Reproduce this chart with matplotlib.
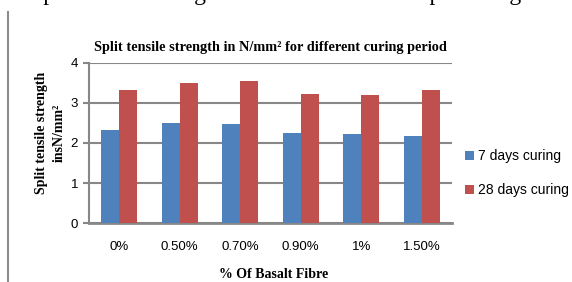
import numpy as np
import matplotlib.pyplot as plt
from matplotlib.lines import Line2D

categories = ["0%", "0.50%", "0.70%", "0.90%", "1%", "1.50%"]
days7 = [2.33, 2.50, 2.48, 2.25, 2.23, 2.18]
days28 = [3.33, 3.50, 3.55, 3.23, 3.20, 3.33]
series_names = ["7 days curing", "28 days curing"]

blue = "#4F81BD"
red = "#C0504D"
grid_grey = "#878787"

fig = plt.figure(figsize=(5.72, 2.82), dpi=100)
ax = fig.add_axes([89 / 572, 1 - 223 / 282, (452 - 89) / 572, (223 - 63) / 282])

x = np.arange(len(categories))
w = 0.3
ax.bar(x - w / 2, days7, w, color=blue, label=series_names[0], zorder=3)
ax.bar(x + w / 2, days28, w, color=red, label=series_names[1], zorder=3)

ax.set_xlim(-0.5, len(categories) - 0.5)
ax.set_ylim(0, 4)
ax.set_yticks([0, 1, 2, 3, 4])
ax.yaxis.grid(True, color=grid_grey, linewidth=1.5, zorder=0)
ax.set_axisbelow(True)

ax.set_xticks(x)
ax.set_xticklabels(categories, fontsize=9.5, family="Liberation Sans")
for lab in ax.get_yticklabels():
    lab.set_fontsize(9.5)
    lab.set_family("Liberation Sans")
ax.tick_params(axis="x", length=0, pad=13)
ax.tick_params(axis="y", length=4.3, width=1.5, color=grid_grey, pad=3.5)

for s in ["top", "right"]:
    ax.spines[s].set_visible(False)
ax.spines["left"].set_color(grid_grey)
ax.spines["left"].set_linewidth(1.5)
ax.spines["bottom"].set_color(grid_grey)
ax.spines["bottom"].set_linewidth(2)

serif = "Liberation Serif"
fig.text(270 / 572, 1 - 47 / 282, "Split tensile strength in N/mm² for different curing period",
         ha="center", va="center", fontsize=10.3, fontweight="bold", family=serif)
fig.text(42 / 572, 1 - 133 / 282, "Split tensile strength", rotation=90,
         ha="center", va="center", fontsize=10, fontweight="bold", family=serif)
fig.text(59 / 572, 1 - 133 / 282, "insN/mm²", rotation=90,
         ha="center", va="center", fontsize=10, fontweight="bold", family=serif)
fig.text(274 / 572, 1 - 275 / 282, "% Of Basalt Fibre",
         ha="center", va="center", fontsize=10, fontweight="bold", family=serif)

leg = ax.legend(loc="center left", bbox_to_anchor=(1.0, 0.31), frameon=False,
                prop={"family": "Liberation Sans", "size": 10},
                handlelength=0.7, handleheight=0.7, handletextpad=0.3, labelspacing=1.45)

# page fragments around the chart
fig.text(30 / 572, 1.0, "Split tensile strength of M30 with various percentage",
         ha="left", va="baseline", fontsize=17, family=serif)
fig.add_artist(Line2D([8 / 572, 8 / 572], [0, 1 - 12 / 282], transform=fig.transFigure,
                      color="#8c8c8c", linewidth=1.5))

fig.savefig("out.png", dpi=100)
